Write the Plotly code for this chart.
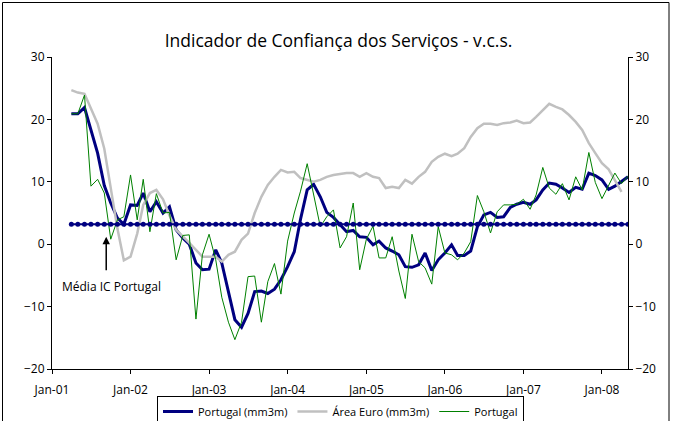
import plotly.graph_objects as go
import pandas as pd

# Monthly dates (first observation Apr-01)
months = pd.date_range("2001-04-01", periods=86, freq="MS")

portugal_mm3m = [20.9, 20.9, 21.9, 18.2, 14.6, 9.4, 6.6, 4.2, 3.2, 6.3,
                 6.2, 8.2, 5.2, 6.8, 5.0, 6.0, 2.3, 1.0, 0.0, -3.0,
                 -4.1, -4.0, -0.9, -3.0, -7.9, -12.1, -13.3, -11.1, -7.6, -7.5,
                 -7.9, -7.2, -5.7, -3.6, -1.2, 4.0, 8.7, 9.6, 7.6, 5.1,
                 4.3, 3.2, 2.0, 2.2, 1.2, 1.1, -0.1, 0.5, -0.6, -1.1,
                 -1.7, -3.6, -3.7, -3.3, -1.4, -4.2, -2.5, -1.4, -0.1, -1.8,
                 -1.8, -1.1, 2.8, 4.7, 5.1, 4.3, 4.4, 5.9, 6.4, 6.7,
                 6.4, 7.1, 8.7, 9.8, 9.6, 9.0, 8.3, 9.1, 8.8, 11.4,
                 11.0, 10.3, 8.8, 9.3, 10.0, 10.8]

area_euro_mm3m = [24.7, 24.3, 24.1, 21.8, 19.3, 15.3, 9.2, 2.5, -2.6, -2.0,
                  1.7, 6.3, 8.2, 8.7, 7.2, 4.6, 2.3, 1.3, 0.2, -0.9,
                  -2.0, -2.0, -2.0, -2.8, -1.7, -1.2, 0.7, 1.7, 5.0, 7.6,
                  9.5, 10.8, 11.9, 11.5, 11.6, 10.6, 10.3, 10.0, 10.3, 10.8,
                  11.1, 11.3, 11.4, 11.4, 10.8, 11.4, 10.8, 10.6, 9.0, 9.2,
                  9.0, 10.3, 9.7, 10.8, 11.6, 13.2, 14.0, 14.5, 14.1, 14.5,
                  15.4, 17.2, 18.6, 19.3, 19.3, 19.1, 19.4, 19.5, 19.8, 19.4,
                  19.5, 20.4, 21.5, 22.5, 22.0, 21.6, 20.7, 19.6, 18.3, 16.2,
                  14.6, 13.0, 12.0, 10.3, 8.4]

portugal = [20.9, 20.9, 23.9, 9.3, 10.4, 8.2, 0.8, 3.9, 4.4, 11.1,
            3.9, 10.4, 2.0, 8.1, 5.0, 5.1, -2.5, 1.4, 1.5, -12.0,
            -1.7, 1.6, -2.5, -8.5, -12.5, -15.3, -12.5, -5.2, -5.1, -12.5,
            -6.0, -3.1, -8.0, 0.5, 5.0, 8.5, 12.9, 8.2, 2.8, 4.4,
            5.5, -0.6, 1.2, 6.6, -4.1, 0.8, 2.9, -2.2, -2.2, 1.2,
            -4.3, -8.7, 1.6, -2.8, -3.8, -6.4, 2.8, -1.4, -1.7, -2.5,
            -1.4, 0.4, 7.8, 5.2, 1.8, 5.2, 6.3, 6.3, 6.4, 7.2,
            5.6, 7.9, 12.3, 9.0, 8.0, 9.7, 7.1, 10.8, 8.7, 14.7,
            9.9, 7.3, 9.5, 11.4, 9.7, 10.9]

MEDIA_IC = 3.2
media_ic = [MEDIA_IC] * len(months)

FONT = "Open Sans"

fig = go.Figure()
fig.add_trace(go.Scatter(x=months, y=portugal_mm3m, name="Portugal (mm3m)", mode="lines",
                         line=dict(color="#000080", width=3), legendrank=1))
fig.add_trace(go.Scatter(x=months[:len(area_euro_mm3m)], y=area_euro_mm3m, name="Área Euro (mm3m)",
                         mode="lines", line=dict(color="#C0C0C0", width=2.5), legendrank=2))
fig.add_trace(go.Scatter(x=months, y=portugal, name="Portugal", mode="lines",
                         line=dict(color="#008000", width=1), legendrank=3))
fig.add_trace(go.Scatter(x=months, y=media_ic, name="Média IC Portugal", mode="lines+markers",
                         line=dict(color="#000080", width=2),
                         marker=dict(size=5, color="#000080"), showlegend=False, yaxis="y2"))

L, R, T, B = 52, 46, 57, 52
W, H = 674, 421
pw, ph = W - L - R, H - T - B

def px_x(p):
    return (p - L) / pw

def px_y(p):
    return (H - B - p) / ph

axis_common = dict(ticks="outside", ticklen=4, tickcolor="black",
                   showline=True, linecolor="black", linewidth=1,
                   showgrid=False, zeroline=False,
                   tickfont=dict(family=FONT, size=12, color="black"))

fig.update_layout(
    width=W, height=H,
    margin=dict(l=L, r=R, t=T, b=B, autoexpand=False),
    paper_bgcolor="white", plot_bgcolor="white",
    font=dict(family=FONT, size=12, color="black"),
    title=dict(text="Indicador de Confiança dos Serviços - v.c.s.",
               font=dict(family=FONT, size=17.5, color="black"),
               x=338.5 / W, xref="container", xanchor="center",
               y=1 - 41 / H, yref="container", yanchor="middle"),
    xaxis=dict(type="date", range=["2001-01-01", "2008-05-01"],
               tick0="2001-01-01", dtick="M12", tickformat="%b-%y",
               ticklabelstandoff=6, **axis_common),
    yaxis=dict(range=[-20, 30], dtick=10, **axis_common),
    yaxis2=dict(range=[-20, 30], dtick=10, overlaying="y", side="right", **axis_common),
    legend=dict(orientation="h", x=340.5 / W, xanchor="center", xref="container",
                y=1 - 396 / H, yanchor="top", yref="container",
                bordercolor="black", borderwidth=1, bgcolor="white",
                font=dict(family=FONT, size=11), itemwidth=30, tracegroupgap=0),
    showlegend=True,
)

fig.add_annotation(x="2001-09-10", y=1.2, xref="x", yref="y", text="",
                   showarrow=True, ax=0, ay=35, axref="pixel", ayref="pixel",
                   arrowhead=2, arrowsize=1, arrowwidth=1.5, arrowcolor="black")
fig.add_annotation(x=px_x(111.7), y=px_y(286.7), xref="paper", yref="paper",
                   text="Média IC Portugal", showarrow=False,
                   xanchor="center", yanchor="middle",
                   font=dict(family=FONT, size=12, color="black"))

fig.add_shape(type="rect", xref="paper", yref="paper",
              x0=px_x(2.5), x1=px_x(669), y0=px_y(425), y1=px_y(2.5),
              line=dict(color="black", width=1), fillcolor="rgba(0,0,0,0)", layer="below")

fig.write_html("out.html", config={"displayModeBar": False},
               post_script="document.body.style.margin='0px';")
